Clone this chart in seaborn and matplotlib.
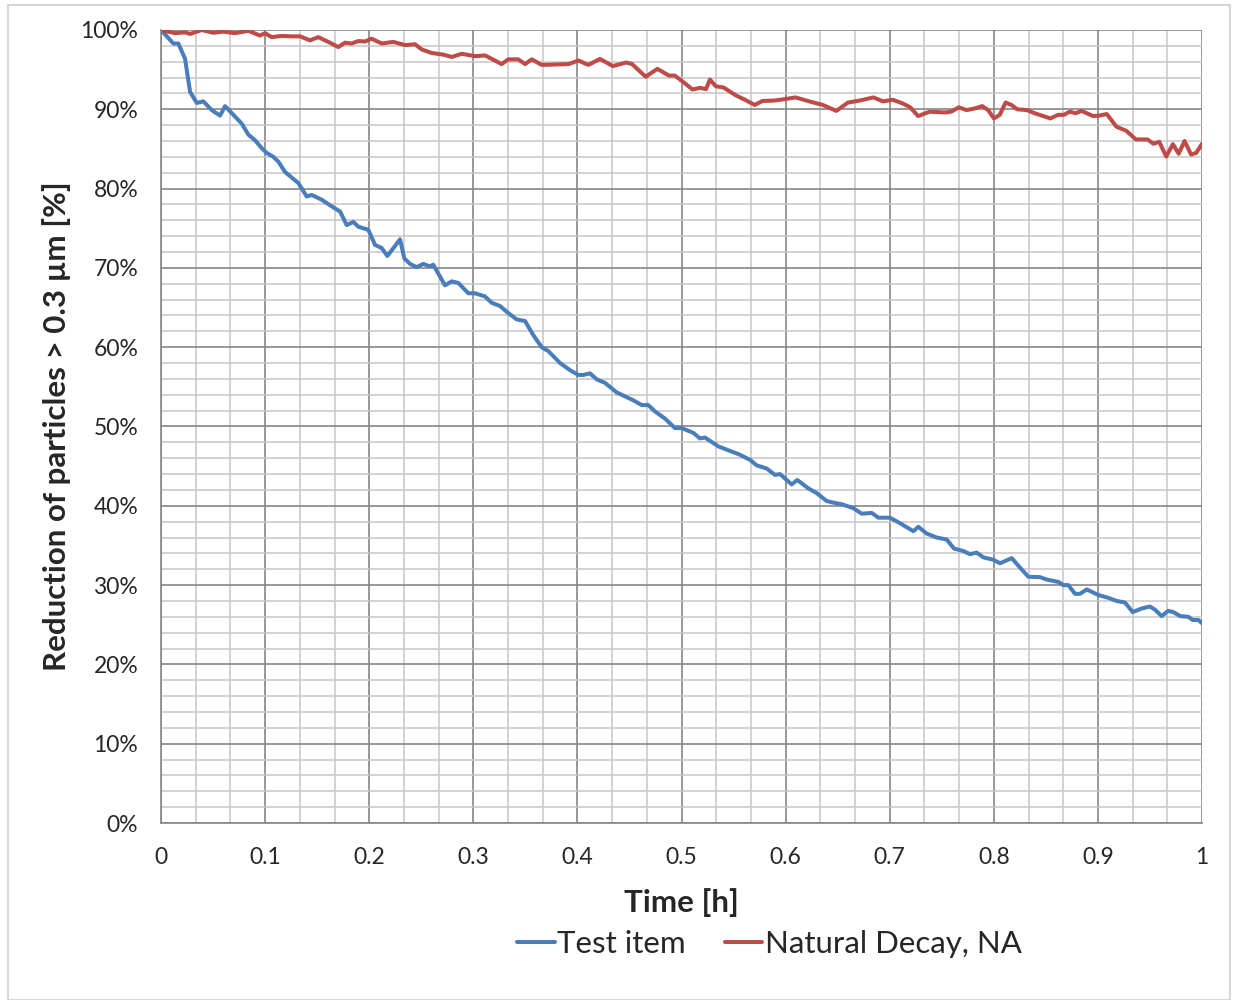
import matplotlib.pyplot as plt
import numpy as np
import pandas as pd
import seaborn as sns
from matplotlib.patches import Rectangle
from matplotlib.ticker import FixedLocator, FuncFormatter

# values (time in h, reduction in %)
blue_t = [0, 0.0118, 0.0166, 0.023, 0.0279, 0.0343, 0.0406, 0.0487, 0.0567, 0.0615,
          0.0695, 0.0775, 0.0839, 0.0903, 0.0967, 0.1015, 0.1079, 0.1127, 0.1191, 0.1255,
          0.1319, 0.14, 0.1447, 0.1543, 0.1623, 0.172, 0.1784, 0.1847, 0.1895, 0.1991,
          0.2056, 0.212, 0.2174, 0.2296, 0.2337, 0.2392, 0.2456, 0.252, 0.258, 0.2615,
          0.2728, 0.2792, 0.2856, 0.2952, 0.3016, 0.3112, 0.3176, 0.3256, 0.3336, 0.3417,
          0.3497, 0.3577, 0.3657, 0.3721, 0.3833, 0.3929, 0.4009, 0.4057, 0.4121, 0.4185,
          0.4265, 0.4377, 0.4537, 0.4618, 0.4681, 0.4745, 0.4841, 0.4937, 0.5001, 0.5113,
          0.5177, 0.5226, 0.5353, 0.545, 0.555, 0.5658, 0.5722, 0.5818, 0.5898, 0.5946,
          0.6058, 0.6112, 0.6218, 0.6298, 0.6394, 0.6458, 0.6539, 0.665, 0.6731, 0.6827,
          0.6891, 0.7003, 0.7099, 0.7227, 0.7275, 0.7355, 0.7451, 0.7547, 0.7618, 0.7707,
          0.7771, 0.7835, 0.7899, 0.7995, 0.8059, 0.8172, 0.8252, 0.8332, 0.8444, 0.8508,
          0.862, 0.8668, 0.8716, 0.878, 0.8828, 0.8892, 0.9004, 0.91, 0.918, 0.926,
          0.9334, 0.942, 0.95, 0.9548, 0.9612, 0.9676, 0.9724, 0.9788, 0.9868, 0.991,
          0.9964, 1.0]
blue_v = [100.0, 98.3, 98.3, 96.4, 92.2, 90.8, 91.0, 89.9, 89.2, 90.4,
          89.3, 88.2, 86.8, 86.1, 85.1, 84.5, 84.0, 83.4, 82.1, 81.4,
          80.7, 79.0, 79.2, 78.6, 77.9, 77.1, 75.4, 75.8, 75.2, 74.8,
          72.9, 72.5, 71.5, 73.6, 71.2, 70.5, 70.1, 70.5, 70.2, 70.4,
          67.8, 68.3, 68.1, 66.8, 66.8, 66.4, 65.6, 65.2, 64.3, 63.5,
          63.3, 61.5, 60.0, 59.5, 58.0, 57.1, 56.5, 56.5, 56.7, 55.95,
          55.5, 54.3, 53.3, 52.7, 52.7, 51.9, 51.0, 49.8, 49.8, 49.2,
          48.5, 48.6, 47.5, 47.0, 46.5, 45.8, 45.1, 44.7, 43.9, 44.0,
          42.7, 43.25, 42.2, 41.6, 40.6, 40.4, 40.2, 39.7, 39.0, 39.1,
          38.5, 38.5, 37.8, 36.8, 37.35, 36.5, 36.0, 35.75, 34.6, 34.3,
          33.9, 34.1, 33.5, 33.2, 32.75, 33.4, 32.2, 31.05, 31.0, 30.7,
          30.4, 30.0, 30.0, 28.9, 28.9, 29.45, 28.75, 28.4, 28.0, 27.8,
          26.6, 27.05, 27.3, 26.9, 26.1, 26.75, 26.6, 26.1, 26.0, 25.6,
          25.6, 25.2]

red_t = [0, 0.0134, 0.023, 0.0279, 0.039, 0.0502, 0.0598, 0.071, 0.0839, 0.095,
         0.0999, 0.1063, 0.1159, 0.1255, 0.1335, 0.1431, 0.1511, 0.1607, 0.1703, 0.1767,
         0.1831, 0.1895, 0.1959, 0.2024, 0.212, 0.2231, 0.2344, 0.244, 0.2504, 0.26,
         0.2711, 0.2792, 0.2888, 0.3016, 0.3112, 0.3272, 0.3336, 0.3432, 0.3497, 0.3561,
         0.3657, 0.3785, 0.3913, 0.4009, 0.4105, 0.4217, 0.4339, 0.4469, 0.4525, 0.4656,
         0.4768, 0.488, 0.4936, 0.5011, 0.5105, 0.5179, 0.5235, 0.5273, 0.5329, 0.5404,
         0.5516, 0.5609, 0.5703, 0.5777, 0.5889, 0.6001, 0.6095, 0.6226, 0.6357, 0.6487,
         0.6599, 0.6711, 0.6842, 0.6936, 0.7029, 0.7123, 0.7197, 0.7272, 0.7384, 0.7534,
         0.759, 0.7664, 0.7739, 0.7814, 0.7889, 0.7945, 0.8001, 0.8057, 0.8113, 0.8169,
         0.8225, 0.8318, 0.8393, 0.8543, 0.8617, 0.8673, 0.8729, 0.8786, 0.8842, 0.8954,
         0.901, 0.9085, 0.9178, 0.9271, 0.9365, 0.9477, 0.9533, 0.9589, 0.9656, 0.972,
         0.9776, 0.9832, 0.9895, 0.9944, 1.0]
red_v = [100.0, 99.6, 99.7, 99.5, 100.0, 99.65, 99.8, 99.6, 99.9, 99.3,
         99.6, 99.1, 99.25, 99.2, 99.2, 98.7, 99.1, 98.5, 97.85, 98.4,
         98.3, 98.6, 98.55, 98.9, 98.3, 98.5, 98.1, 98.2, 97.55, 97.1,
         96.9, 96.6, 97.0, 96.7, 96.8, 95.7, 96.3, 96.3, 95.7, 96.3,
         95.6, 95.65, 95.7, 96.15, 95.6, 96.35, 95.45, 95.9, 95.7, 94.1,
         95.1, 94.25, 94.25, 93.5, 92.5, 92.7, 92.55, 93.75, 92.9, 92.75,
         91.8, 91.2, 90.55, 91.05, 91.1, 91.3, 91.5, 91.0, 90.55, 89.8,
         90.85, 91.1, 91.5, 91.0, 91.2, 90.75, 90.25, 89.15, 89.7, 89.6,
         89.7, 90.25, 89.9, 90.1, 90.4, 89.9, 88.85, 89.3, 90.85, 90.55,
         90.0, 89.9, 89.5, 88.85, 89.3, 89.3, 89.7, 89.5, 89.8, 89.15,
         89.2, 89.4, 87.8, 87.3, 86.2, 86.2, 85.65, 85.9, 84.05, 85.6,
         84.4, 86.0, 84.3, 84.5, 85.65]

series_names = ["Test item", "Natural Decay, NA"]
series_colors = ["#4a7ebb", "#be4b48"]

x_major = [0, 0.1, 0.2, 0.3, 0.4, 0.5, 0.6, 0.7, 0.8, 0.9, 1.0]
x_labels = ["0", "0.1", "0.2", "0.3", "0.4", "0.5", "0.6", "0.7", "0.8", "0.9", "1"]
y_major = [0, 10, 20, 30, 40, 50, 60, 70, 80, 90, 100]


def main():
    df = pd.concat([
        pd.DataFrame({"t": blue_t, "v": blue_v, "series": series_names[0]}),
        pd.DataFrame({"t": red_t, "v": red_v, "series": series_names[1]}),
    ])

    sns.set_style("white")
    plt.rcParams["font.family"] = ["Lato", "DejaVu Sans"]

    fig = plt.figure(figsize=(12.35, 10), dpi=100)
    ax = fig.add_axes([0.1304, 0.177, 0.8429, 0.793])

    sns.lineplot(
        data=df, x="t", y="v", hue="series", hue_order=series_names,
        palette=series_colors, linewidth=2.9, sort=False, estimator=None,
        ax=ax, legend=False,
    )

    ax.set_xlim(0, 1)
    ax.set_ylim(0, 100)
    ax.xaxis.set_major_locator(FixedLocator(x_major))
    ax.xaxis.set_minor_locator(FixedLocator(np.arange(31) / 30))
    ax.yaxis.set_major_locator(FixedLocator(y_major))
    ax.yaxis.set_minor_locator(FixedLocator(np.arange(0, 101, 2)))
    ax.set_xticklabels(x_labels)
    ax.yaxis.set_major_formatter(FuncFormatter(lambda v, _: f"{v:.0f}%"))

    # Excel style grid
    ax.set_axisbelow(True)
    ax.grid(which="major", color="#868686", linewidth=1.2)
    ax.grid(which="minor", color="#c6c6c6", linewidth=1.1)

    for side in ["top", "right"]:
        ax.spines[side].set_visible(False)
    for side in ["left", "bottom"]:
        ax.spines[side].set_color("#868686")
        ax.spines[side].set_linewidth(1.2)

    ax.tick_params(axis="both", which="major", direction="out", length=5.5,
                   width=1.2, color="#868686", labelsize=16.5)
    ax.tick_params(axis="x", which="major", pad=12)
    ax.tick_params(axis="y", which="major", pad=11)
    ax.tick_params(axis="both", which="minor", length=0)

    ax.set_xlabel("Time [h]", fontsize=22.5, fontweight="bold", labelpad=14)
    ax.set_ylabel("Reduction of particles > 0.3 µm [%]", fontsize=22.5,
                  fontweight="bold", labelpad=7)

    handles = [plt.Line2D([], [], color=c, linewidth=2.9) for c in series_colors]
    fig.legend(handles, series_names, loc="center", bbox_to_anchor=(0.623, 0.056),
               ncol=2, frameon=False, fontsize=22.5, handlelength=1.2,
               handletextpad=0.08, columnspacing=1.25)

    # light frame around the whole chart
    fig.patches.append(Rectangle((0.0065, 0.0), 0.9895, 0.995, transform=fig.transFigure,
                                 fill=False, edgecolor="#d0d0d0", linewidth=1.2))

    fig.savefig("out.png", dpi=100)
    plt.close(fig)


if __name__ == "__main__":
    main()
